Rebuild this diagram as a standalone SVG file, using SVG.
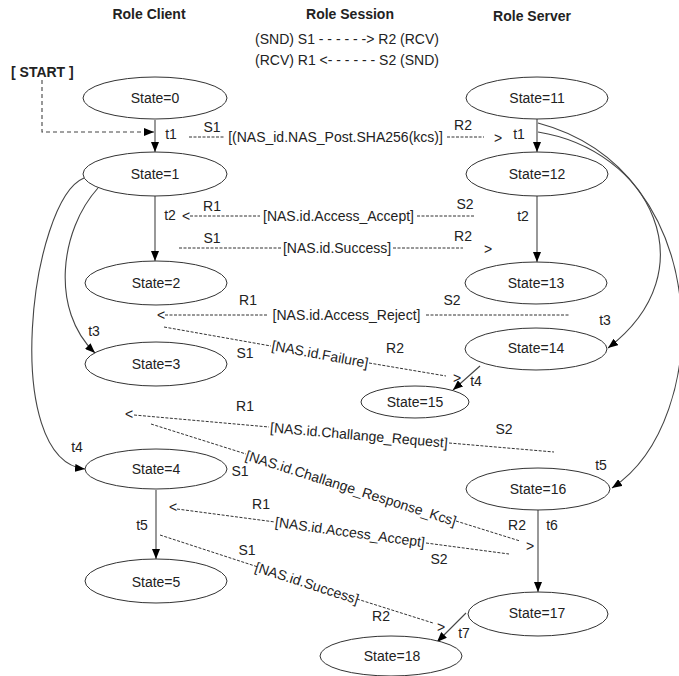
<svg xmlns="http://www.w3.org/2000/svg" width="679" height="676" viewBox="0 0 679 676">
<defs>
<marker id="ah" markerUnits="userSpaceOnUse" markerWidth="11" markerHeight="8" refX="10" refY="4" orient="auto">
<path d="M0,0 L10,4 L0,8 z" fill="#000"/>
</marker>
<style>
text{font-family:"Liberation Sans",Arial,sans-serif;font-size:14px;fill:#222}
.t{font-weight:bold;text-anchor:middle}
.c{text-anchor:middle}
.st ellipse{fill:#fff;stroke:#333;stroke-width:1}
.tr{fill:none;stroke:#444;stroke-width:1.1}
.ar{marker-end:url(#ah)}
.msg{fill:none;stroke:#333;stroke-width:1;stroke-dasharray:3,1.5}
.lm{text-anchor:middle;dominant-baseline:central}
</style>
</defs>
<rect width="679" height="676" fill="#fff"/>

<g id="titles">
<text class="t" x="149" y="19">Role Client</text>
<text class="t" x="350" y="19">Role Session</text>
<text class="t" x="532" y="21">Role Server</text>
<text class="c" x="347" y="44">(SND) S1 - - - - - -&gt; R2 (RCV)</text>
<text class="c" x="347" y="65">(RCV) R1 &lt;- - - - - - S2 (SND)</text>
<text style="font-weight:bold" x="11" y="77">[ START ]</text>
</g>

<g id="connectors">
<path class="tr ar" d="M42,80 V132 H154" stroke-dasharray="4,3"/>
<path class="tr ar" d="M155,120 V152"/>
<path class="tr ar" d="M155,196 V261"/>
<path class="tr ar" d="M156,490 V559"/>
<path class="tr ar" d="M537,119 V152"/>
<path class="tr ar" d="M537,196 V262"/>
<path class="tr ar" d="M538,510 V592"/>
<path class="tr ar" d="M480,366 L453,390"/>
<path class="tr ar" d="M466,613 L437,642"/>
<path class="tr ar" d="M84,178 C30,200 0,460 85,469"/>
<path class="tr ar" d="M98,188 C60,230 50,310 95,353"/>
<path class="tr ar" d="M538,123 C715,170 715,420 612,488"/>
<path class="tr ar" d="M538,132 C650,150 710,270 608,348"/>

<!-- messages -->
<line class="msg" x1="189" y1="137" x2="224" y2="137"/>
<line class="msg" x1="447" y1="137" x2="484" y2="137"/>
<line class="msg" x1="190" y1="216" x2="260" y2="216"/>
<line class="msg" x1="417" y1="216" x2="474" y2="216"/>
<line class="msg" x1="179" y1="248" x2="281" y2="248"/>
<line class="msg" x1="393" y1="248" x2="463" y2="248"/>
<line class="msg" x1="165" y1="315" x2="268" y2="315"/>
<line class="msg" x1="426" y1="315" x2="569" y2="315"/>
<line class="msg" x1="164" y1="327" x2="271" y2="346"/>
<line class="msg" x1="369" y1="363" x2="446" y2="376"/>
<line class="msg" x1="134" y1="415" x2="269" y2="427"/>
<line class="msg" x1="449" y1="443" x2="554" y2="452"/>
<line class="msg" x1="151" y1="424" x2="246" y2="454"/>
<line class="msg" x1="456" y1="521" x2="520" y2="541"/>
<line class="msg" x1="177" y1="509" x2="275" y2="522"/>
<line class="msg" x1="426" y1="543" x2="509" y2="554"/>
<line class="msg" x1="160" y1="535" x2="258" y2="567"/>
<line class="msg" x1="357" y1="599" x2="433" y2="623"/>
</g>

<g id="msglabels">
<text class="lm" x="335.5" y="137">[(NAS_id.NAS_Post.SHA256(kcs)]</text>
<text class="lm" x="498" y="138">&gt;</text>
<text class="lm" x="186" y="216">&lt;</text>
<text class="lm" x="338.5" y="216">[NAS.id.Access_Accept]</text>
<text class="lm" x="337" y="248">[NAS.id.Success]</text>
<text class="lm" x="488" y="249">&gt;</text>
<text class="lm" x="161" y="315">&lt;</text>
<text class="lm" x="346.5" y="315">[NAS.id.Access_Reject]</text>
<text class="lm" x="320" y="354" transform="rotate(10.5 320 354)">[NAS.id.Failure]</text>
<text class="lm" x="457" y="378">&gt;</text>
<text class="lm" x="129" y="414">&lt;</text>
<text class="lm" x="359" y="435" transform="rotate(5 359 435)">[NAS.id.Challange_Request]</text>
<text class="lm" x="351" y="488" transform="rotate(17.6 351 488)">[NAS.id.Challange_Response_Kcs]</text>
<text class="lm" x="530" y="546">&gt;</text>
<text class="lm" x="173" y="507">&lt;</text>
<text class="lm" x="350" y="532" transform="rotate(7.8 350 532)">[NAS.id.Access_Accept]</text>
<text class="lm" x="307" y="583" transform="rotate(17.8 307 583)">[NAS.id.Success]</text>
<text class="lm" x="441" y="627">&gt;</text>

<text class="lm" x="212" y="127">S1</text>
<text class="lm" x="463" y="125">R2</text>
<text class="lm" x="212" y="206">R1</text>
<text class="lm" x="465" y="204">S2</text>
<text class="lm" x="212" y="238">S1</text>
<text class="lm" x="463" y="236">R2</text>
<text class="lm" x="248" y="300">R1</text>
<text class="lm" x="452" y="300">S2</text>
<text class="lm" x="245" y="353">S1</text>
<text class="lm" x="395" y="348">R2</text>
<text class="lm" x="245" y="406">R1</text>
<text class="lm" x="504" y="429">S2</text>
<text class="lm" x="240" y="471">S1</text>
<text class="lm" x="517" y="525">R2</text>
<text class="lm" x="261" y="504">R1</text>
<text class="lm" x="439" y="559">S2</text>
<text class="lm" x="247" y="550">S1</text>
<text class="lm" x="381" y="616">R2</text>

<text class="lm" x="171" y="134">t1</text>
<text class="lm" x="519" y="134">t1</text>
<text class="lm" x="170" y="215">t2</text>
<text class="lm" x="523" y="216">t2</text>
<text class="lm" x="94" y="331">t3</text>
<text class="lm" x="605" y="320">t3</text>
<text class="lm" x="77" y="447">t4</text>
<text class="lm" x="476" y="381">t4</text>
<text class="lm" x="142" y="525">t5</text>
<text class="lm" x="601" y="465">t5</text>
<text class="lm" x="552" y="525">t6</text>
<text class="lm" x="464" y="633">t7</text>
</g>

<g id="s0" class="st"><ellipse cx="155" cy="98" rx="72" ry="21"/><text class="lm" x="155" y="98">State=0</text></g>
<g id="s1" class="st"><ellipse cx="155" cy="174" rx="72" ry="22"/><text class="lm" x="155" y="174">State=1</text></g>
<g id="s2" class="st"><ellipse cx="156" cy="283" rx="71" ry="22"/><text class="lm" x="156" y="283">State=2</text></g>
<g id="s3" class="st"><ellipse cx="156" cy="364" rx="71" ry="22"/><text class="lm" x="156" y="364">State=3</text></g>
<g id="s4" class="st"><ellipse cx="156" cy="469" rx="71" ry="20"/><text class="lm" x="156" y="469">State=4</text></g>
<g id="s5" class="st"><ellipse cx="156" cy="581" rx="71" ry="22"/><text class="lm" x="156" y="582">State=5</text></g>
<g id="s11" class="st"><ellipse cx="537" cy="98" rx="71" ry="21"/><text class="lm" x="537" y="98">State=11</text></g>
<g id="s12" class="st"><ellipse cx="537" cy="174" rx="71" ry="22"/><text class="lm" x="537" y="174">State=12</text></g>
<g id="s13" class="st"><ellipse cx="536" cy="283" rx="71" ry="21"/><text class="lm" x="536" y="283">State=13</text></g>
<g id="s14" class="st"><ellipse cx="536" cy="349" rx="71" ry="21"/><text class="lm" x="536" y="348">State=14</text></g>
<g id="s15" class="st"><ellipse cx="415" cy="402" rx="54" ry="16"/><text class="lm" x="415" y="402">State=15</text></g>
<g id="s16" class="st"><ellipse cx="538" cy="489" rx="72" ry="21"/><text class="lm" x="538" y="489">State=16</text></g>
<g id="s17" class="st"><ellipse cx="538" cy="614" rx="70" ry="22"/><text class="lm" x="537" y="613">State=17</text></g>
<g id="s18" class="st"><ellipse cx="391" cy="656" rx="71" ry="20"/><text class="lm" x="392" y="656">State=18</text></g>
</svg>
